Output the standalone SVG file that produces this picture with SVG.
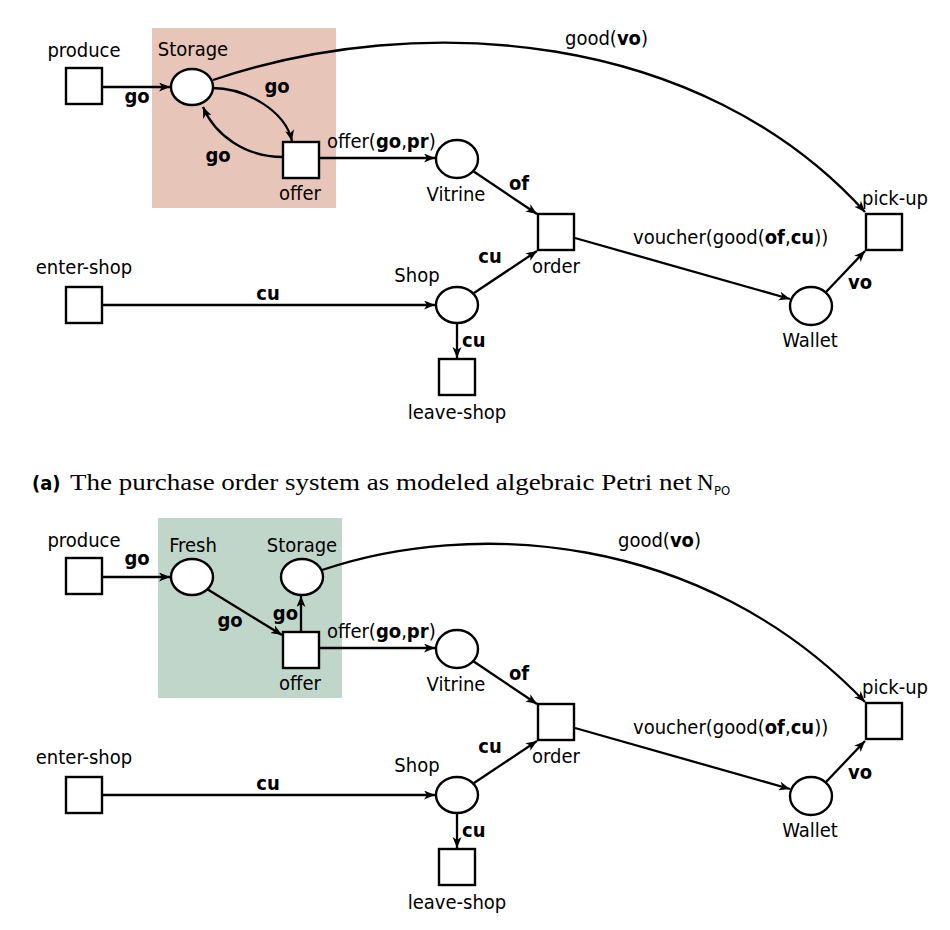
<svg xmlns="http://www.w3.org/2000/svg" width="950" height="930" viewBox="0 0 950 930">
<style>
.t{font-family:"DejaVu Sans Condensed","Liberation Sans Narrow","DejaVu Sans",sans-serif;font-size:20px;fill:#000}
.m{text-anchor:middle}
.b{font-weight:bold}
.n{fill:#fff;stroke:#000;stroke-width:2.4}
.a{fill:none;stroke:#000;stroke-width:2.3;marker-end:url(#ah)}
.cap{font-family:"Liberation Serif","DejaVu Serif",serif;font-size:23px;fill:#000}
</style>
<defs>
<marker id="ah" markerUnits="userSpaceOnUse" markerWidth="13" markerHeight="10" refX="11" refY="4.5" orient="auto">
<path d="M0,0 L11,4.5 L0,9 L3,4.5 z" fill="#000"/>
</marker>
</defs>
<rect width="950" height="930" fill="#fff"/>

<!-- ===== (a) top net ===== -->
<rect id="hl-a" x="152" y="28" width="184" height="180" fill="#e8c5b9"/>

<g id="a-conn">
<path class="a" d="M102 87 L170 87"/>
<path class="a" d="M212 88 C245 88 285 110 292 141"/>
<path class="a" d="M283 157 C245 157 215 135 203 107"/>
<path class="a" d="M319 158 L435 158"/>
<path class="a" d="M473 171 L537 214"/>
<path class="a" d="M474 293 L537 251"/>
<path class="a" d="M457 323 L457 358"/>
<path class="a" d="M102 305 L435 305"/>
<path class="a" d="M575 238 L790 299"/>
<path class="a" d="M826 292 L865 251"/>
<path class="a" d="M213 80 C420 10 700 30 865 212"/>
</g>
<g id="a-arc-labels" class="t">
<text class="b m" x="137" y="103">go</text>
<text class="b m" x="277" y="93">go</text>
<text class="b m" x="218" y="162">go</text>
<text x="327" y="148">offer(<tspan class="b">go</tspan>,<tspan class="b">pr</tspan>)</text>
<text class="b m" x="519" y="190">of</text>
<text class="b m" x="490" y="263">cu</text>
<text class="b" x="462" y="347">cu</text>
<text class="b m" x="268" y="300">cu</text>
<text x="633" y="244">voucher(good(<tspan class="b">of</tspan>,<tspan class="b">cu</tspan>))</text>
<text class="b m" x="860" y="289">vo</text>
<text x="565" y="45">good(<tspan class="b">vo</tspan>)</text>
</g>

<g id="a-produce"><rect class="n" x="66" y="68" width="36" height="36"/><text class="t m" x="84" y="57">produce</text></g>
<g id="a-storage"><ellipse class="n" cx="192" cy="87" rx="21" ry="18"/><text class="t m" x="193" y="56">Storage</text></g>
<g id="a-offer"><rect class="n" x="283" y="142" width="36" height="36"/><text class="t m" x="300" y="200">offer</text></g>
<g id="a-vitrine"><ellipse class="n" cx="457" cy="159" rx="21" ry="19"/><text class="t m" x="456" y="201">Vitrine</text></g>
<g id="a-order"><rect class="n" x="538" y="214" width="36" height="36"/><text class="t m" x="556" y="273">order</text></g>
<g id="a-shop"><ellipse class="n" cx="457" cy="305" rx="21" ry="18"/><text class="t m" x="417" y="282">Shop</text></g>
<g id="a-leave-shop"><rect class="n" x="439" y="359" width="36" height="36"/><text class="t m" x="457" y="419">leave-shop</text></g>
<g id="a-enter-shop"><rect class="n" x="66" y="287" width="36" height="36"/><text class="t m" x="84" y="274">enter-shop</text></g>
<g id="a-wallet"><ellipse class="n" cx="811" cy="306" rx="21" ry="19"/><text class="t m" x="810" y="347">Wallet</text></g>
<g id="a-pickup"><rect class="n" x="866" y="214" width="36" height="36"/><text class="t m" x="895" y="205">pick-up</text></g>

<!-- caption -->
<g id="caption">
<text class="t b" x="32" y="490">(a)</text>
<text class="cap" x="70" y="490" textLength="622" lengthAdjust="spacingAndGlyphs">The purchase order system as modeled algebraic Petri net</text>
<text class="cap" x="697" y="490">N</text>
<text class="t" x="714" y="495" style="font-size:13px">PO</text>
</g>

<!-- ===== (b) bottom net ===== -->
<rect id="hl-b" x="158" y="518" width="184" height="180" fill="#c1d6cb"/>

<g id="b-conn">
<path class="a" d="M102 577 L170 577"/>
<path class="a" d="M207 589 L282 635"/>
<path class="a" d="M301 632 L301 596"/>
<path class="a" d="M319 648 L435 648"/>
<path class="a" d="M473 661 L537 704"/>
<path class="a" d="M474 783 L537 741"/>
<path class="a" d="M457 813 L457 848"/>
<path class="a" d="M102 795 L435 795"/>
<path class="a" d="M575 728 L790 789"/>
<path class="a" d="M826 782 L865 741"/>
<path class="a" d="M322 570 C470 520 700 530 865 702"/>
</g>
<g id="b-arc-labels" class="t">
<text class="b m" x="137" y="565">go</text>
<text class="b m" x="230" y="627">go</text>
<text class="b" x="298" y="620" text-anchor="end">go</text>
<text x="327" y="638">offer(<tspan class="b">go</tspan>,<tspan class="b">pr</tspan>)</text>
<text class="b m" x="519" y="680">of</text>
<text class="b m" x="490" y="753">cu</text>
<text class="b" x="462" y="837">cu</text>
<text class="b m" x="268" y="790">cu</text>
<text x="633" y="734">voucher(good(<tspan class="b">of</tspan>,<tspan class="b">cu</tspan>))</text>
<text class="b m" x="860" y="779">vo</text>
<text x="618" y="547">good(<tspan class="b">vo</tspan>)</text>
</g>

<g id="b-produce"><rect class="n" x="66" y="558" width="36" height="36"/><text class="t m" x="84" y="547">produce</text></g>
<g id="b-fresh"><ellipse class="n" cx="192" cy="577" rx="21" ry="18"/><text class="t m" x="193" y="552">Fresh</text></g>
<g id="b-storage"><ellipse class="n" cx="302" cy="577" rx="21" ry="18"/><text class="t m" x="302" y="552">Storage</text></g>
<g id="b-offer"><rect class="n" x="283" y="632" width="36" height="36"/><text class="t m" x="300" y="690">offer</text></g>
<g id="b-vitrine"><ellipse class="n" cx="457" cy="649" rx="21" ry="19"/><text class="t m" x="456" y="691">Vitrine</text></g>
<g id="b-order"><rect class="n" x="538" y="704" width="36" height="36"/><text class="t m" x="556" y="763">order</text></g>
<g id="b-shop"><ellipse class="n" cx="457" cy="795" rx="21" ry="18"/><text class="t m" x="417" y="772">Shop</text></g>
<g id="b-leave-shop"><rect class="n" x="439" y="849" width="36" height="36"/><text class="t m" x="457" y="909">leave-shop</text></g>
<g id="b-enter-shop"><rect class="n" x="66" y="777" width="36" height="36"/><text class="t m" x="84" y="764">enter-shop</text></g>
<g id="b-wallet"><ellipse class="n" cx="811" cy="796" rx="21" ry="19"/><text class="t m" x="810" y="837">Wallet</text></g>
<g id="b-pickup"><rect class="n" x="866" y="703" width="36" height="36"/><text class="t m" x="895" y="694">pick-up</text></g>
</svg>
